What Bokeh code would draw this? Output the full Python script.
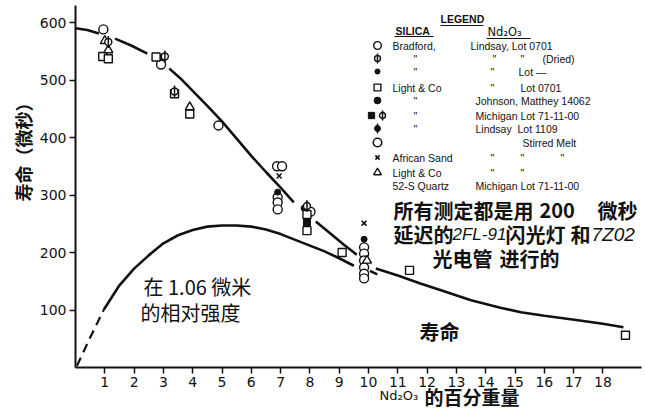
import math
from bokeh.plotting import figure
from bokeh.models import Label, Range1d, FixedTicker
from bokeh.embed import file_html
from bokeh.resources import INLINE
from bokeh.core.properties import value

nan = float("nan")

# ---------------- data ----------------
x_ticks = list(range(1, 19))
y_ticks = [100, 200, 300, 400, 500, 600]

# lifetime curve (gaps where the draftsman broke the line around points)
life_x = [0, 0.4, 0.8, nan, 1.35, 1.9, 2.45, nan, 3.2, 3.6, 4.0, 4.5, 5.0, 5.5, 6.0, 6.5, 7.0, 7.45,
          nan, 8.2, 8.7, 9.15, 9.6, nan, 10.25, 11.0, 11.77, 12.5, 13.5, 14.5, 15.2, 16.0, 16.9, 18.0, 18.7]
life_y = [590, 587, 581, nan, 572, 560, 546, nan, 520, 502, 481, 455, 428, 398, 368, 340, 313, 287,
          nan, 254, 233, 214, 196, nan, 172, 160, 146, 134, 117, 104, 96, 90, 84, 76, 70]

# relative intensity at 1.06 um
inten_dash_x = [0.05, 0.5, 0.97]
inten_dash_y = [3, 52, 101]
inten_x = [0.97, 1.5, 2.0, 2.5, 3.0, 3.5, 4.0, 4.5, 5.0, 5.5, 6.0, 6.5, 7.0, 7.5, 8.0, 8.5, 9.0, 9.5,
           nan, 10.05, 10.3]
inten_y = [101, 143, 172, 195, 216, 230, 239, 245, 247, 247, 245, 240, 232, 222, 212, 202, 190, 177,
           nan, 168, 162]

# measured points grouped by symbol
open_circle_x = [0.95, 2.92, 4.88, 6.88, 7.05, 6.9, 6.9, 6.9, 8.02, 9.85, 9.85, 9.85, 9.85, 9.85, 9.85]
open_circle_y = [588, 527, 421, 350, 350, 296, 287, 275, 271, 209, 198, 186, 174, 163, 155]
dot_x = [2.95, 6.9, 7.8, 9.85]
dot_y = [540, 305, 277, 223]
square_x = [0.93, 1.12, 2.75, 3.38, 3.9, 7.9, 7.9, 9.1, 11.4, 18.77]
square_y = [541, 537, 540, 476, 441, 266, 238, 200, 169, 56]
fsquare_x = [7.9]
fsquare_y = [252]
tri_x = [1.0, 1.12, 3.9, 9.95]
tri_y = [568, 552, 453, 186]
phi_x = [1.12, 3.05, 3.38, 7.9]
phi_y = [566, 541, 480, 281]
cross_x = [6.95, 9.85]
cross_y = [333, 251]

DITTO = "\""
legend_silica = ["Bradford,", DITTO, DITTO, "Light & Co", DITTO, DITTO, DITTO, "", "African Sand", "Light & Co",
                 "52-S Quartz"]
legend_nd = [["Lindsay, Lot 0701"],
             [DITTO, DITTO, "(Dried)"],
             [DITTO, "Lot \u2014"],
             [DITTO, "Lot 0701"],
             ["Johnson, Matthey 14062"],
             ["Michigan Lot 71-11-00"],
             ["Lindsay", "Lot 1109"],
             ["Stirred Melt"],
             [DITTO, DITTO, DITTO],
             [DITTO, DITTO],
             ["Michigan Lot 71-11-00"]]

# ---------------- layout (page pixel -> data for annotation placement) ----------------
X0, XS = 75.0, 29.3
Y0, YS = 367.0, 0.575


def dx(px):
    return (px - X0) / XS


def dy(py):
    return (Y0 - py) / YS


W, H = 644, 413
p = figure(width=W, height=H, output_backend="svg", toolbar_location=None,
           x_range=Range1d(dx(0), dx(W)), y_range=Range1d(dy(H), dy(0)),
           min_border=0, min_border_left=0, min_border_right=0, min_border_top=0, min_border_bottom=0)
p.title.visible = False
p.outline_line_color = None
p.xgrid.visible = False
p.ygrid.visible = False
p.background_fill_color = "white"
p.border_fill_color = "white"

INK = "#111111"
for ax in (p.xaxis[0], p.yaxis[0]):
    ax.fixed_location = 0
    ax.axis_line_width = 2
    ax.axis_line_color = INK
    ax.major_tick_line_width = 1.5
    ax.major_tick_line_color = INK
    ax.major_tick_out = 6
    ax.major_tick_in = 0
    ax.minor_tick_line_color = None
    ax.major_label_text_font = "DejaVu Sans"
    ax.major_label_text_font_size = "14px"
    ax.major_label_text_color = INK
    ax.major_label_standoff = 3
p.xaxis.ticker = FixedTicker(ticks=x_ticks)
p.yaxis.ticker = FixedTicker(ticks=y_ticks)
p.xaxis.bounds = (0, dx(641))
p.yaxis.bounds = (0, dy(5))

# curves
p.line(life_x, life_y, line_width=2.6, line_color=INK)
p.line(inten_x, inten_y, line_width=2.6, line_color=INK)
p.line(inten_dash_x, inten_dash_y, line_width=2.2, line_color=INK, line_dash="9 6")


def draw_sym(xs, ys, kind, k=1.0):
    if kind == "ocircle":
        p.scatter(xs, ys, marker="circle", size=9 * k, fill_color="white", line_color=INK, line_width=1.4)
    elif kind == "dot":
        p.scatter(xs, ys, marker="circle", size=6 * k, fill_color=INK, line_color=INK)
    elif kind == "bigdot":
        p.scatter(xs, ys, marker="circle", size=8 * k, fill_color=INK, line_color=INK)
    elif kind == "square":
        p.scatter(xs, ys, marker="square", size=8 * k, fill_color="white", line_color=INK, line_width=1.4)
    elif kind == "fsquare":
        p.scatter(xs, ys, marker="square", size=7 * k, fill_color=INK, line_color=INK)
    elif kind == "tri":
        p.scatter(xs, ys, marker="triangle", size=9 * k, fill_color="white", line_color=INK, line_width=1.4)
    elif kind == "phi":
        p.scatter(xs, ys, marker="circle", size=7 * k, fill_color="white", line_color=INK, line_width=1.4)
        p.scatter(xs, ys, marker="dash", size=12 * k, angle=math.pi / 2, line_color=INK, line_width=1.5)
    elif kind == "fphi":
        p.scatter(xs, ys, marker="circle", size=7 * k, fill_color=INK, line_color=INK)
        p.scatter(xs, ys, marker="dash", size=12 * k, angle=math.pi / 2, line_color=INK, line_width=1.5)
    elif kind == "cross":
        p.scatter(xs, ys, marker="x", size=7 * k, line_color=INK, line_width=1.6)
    elif kind == "bigocircle":
        p.scatter(xs, ys, marker="circle", size=10 * k, fill_color="white", line_color=INK, line_width=1.6)


draw_sym(open_circle_x, open_circle_y, "ocircle")
draw_sym(dot_x, dot_y, "dot")
draw_sym(square_x, square_y, "square")
draw_sym(fsquare_x, fsquare_y, "fsquare")
draw_sym(tri_x, tri_y, "tri")
draw_sym(phi_x, phi_y, "phi")
draw_sym(cross_x, cross_y, "cross")

# ---------------- legend (drawn as a text block) ----------------
row_py = [45, 58, 71, 87, 100, 115, 128, 142, 157, 172, 185]
row_sym = ["ocircle", "phi", "dot", "square", "bigdot", "fphi2", "fphi", "bigocircle", "cross", "tri", None]
nd_piece_px = [[470], [492, 520, 542], [490, 518], [490, 520], [475], [475], [475, 517], [522],
               [490, 520, 560], [490, 520], [475]]
for py, kind in zip(row_py, row_sym):
    if kind is None:
        continue
    if kind == "fphi2":
        draw_sym([dx(371)], [dy(py)], "fsquare", 0.9)
        draw_sym([dx(382)], [dy(py)], "phi", 0.85)
    else:
        draw_sym([dx(377)], [dy(py)], kind, 0.85)

LFONT = value("Liberation Sans")
sil_x = [dx(413) if s == DITTO else dx(392) for s in legend_silica]
p.text(x=sil_x, y=[dy(v) for v in row_py], text=legend_silica, text_font=LFONT, text_font_size="10.5px",
       text_baseline="middle", text_align="left", text_color=INK)
nd_x, nd_y, nd_t = [], [], []
for pieces, pxs, py in zip(legend_nd, nd_piece_px, row_py):
    for s, px in zip(pieces, pxs):
        nd_x.append(dx(px))
        nd_y.append(dy(py))
        nd_t.append(s)
p.text(x=nd_x, y=nd_y, text=nd_t, text_font=LFONT, text_font_size="10.5px",
       text_baseline="middle", text_align="left", text_color=INK)

# headers
p.text(x=[dx(440), dx(395)], y=[dy(18), dy(30)], text=["LEGEND", "SILICA"], text_font=LFONT,
       text_font_size="10.5px", text_font_style="bold", text_baseline="middle", text_align="left",
       text_color=INK)
p.text(x=[dx(487)], y=[dy(31)], text=["Nd\u2082O\u2083"], text_font=value("DejaVu Sans"),
       text_font_size="11.5px", text_baseline="middle", text_align="left", text_color=INK)
p.segment(x0=[dx(440), dx(394), dx(486)], y0=[dy(25), dy(36), dy(38)],
          x1=[dx(483), dx(433), dx(530)], y1=[dy(25), dy(36), dy(38)], line_color=INK, line_width=1.2)

# ---------------- annotations ----------------
CJK = "Noto Sans CJK SC"


def lab(text, px, py, size, bold=False, align="left", angle=0.0, font=CJK, italic=False):
    style = "bold" if bold else "normal"
    if italic:
        style = "bold italic" if bold else "italic"
    p.add_layout(Label(x=dx(px), y=dy(py), text=text, text_font=font, text_font_size=size,
                       text_font_style=style, text_align=align,
                       text_baseline="middle", text_color=INK, angle=angle))


# note block
lab("所有测定都是用", 393, 210, "20px", bold=True)
lab("200", 539, 210, "20px", bold=True)
lab("微秒", 597, 210, "20px", bold=True)
lab("延迟的", 393, 234, "20px", bold=True)
lab("2FL-91", 452, 234, "17px", italic=True, font="Liberation Sans")
lab("闪光灯", 505, 234, "20px", bold=True)
lab("和", 570, 234, "20px", bold=True)
lab("7Z02", 591, 234, "19px", italic=True, font="Liberation Sans")
lab("光电管", 432, 258, "20px", bold=True)
lab("进行的", 499, 258, "20px", bold=True)

lab("在 1.06 微米", 143, 286, "20px")
lab("的相对强度", 140, 312, "20px")
lab("寿命", 419, 331, "20px", bold=True)

# axis titles
lab("寿命（微秒）", 22, 147, "18px", bold=True, align="center", angle=math.pi / 2)
lab("Nd\u2082O\u2083", 379, 395, "13px", font="DejaVu Sans")
lab("的百分重量", 424, 396, "19px", bold=True)

open("out.html", "w").write(file_html(p, INLINE))
